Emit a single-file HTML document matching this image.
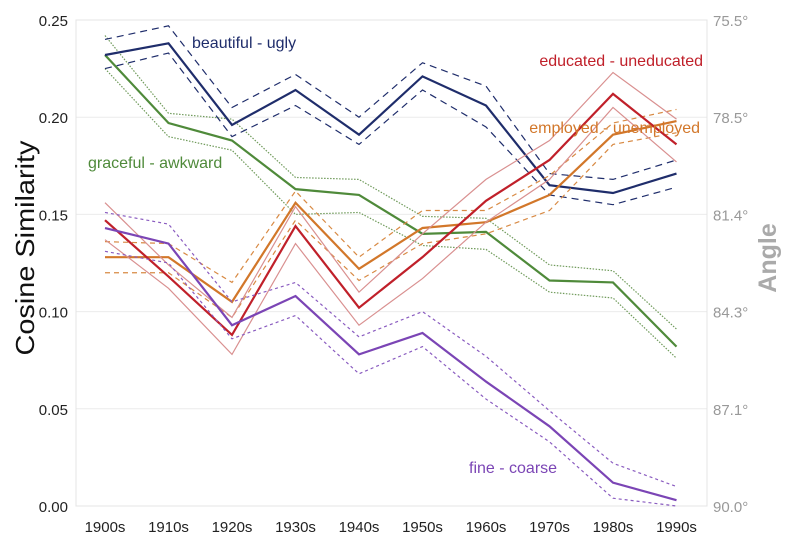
<!DOCTYPE html>
<html><head><meta charset="utf-8"><style>
body{margin:0;background:#fff;}
svg{display:block;font-family:"Liberation Sans",sans-serif;}
</style></head><body>
<svg id="chart" width="793" height="545">
<g id="grid"></g><g id="series"></g><g id="labels"></g>
<text x="0" y="0" transform="translate(34,248) rotate(-90)" text-anchor="middle" font-size="26" textLength="215" lengthAdjust="spacingAndGlyphs" fill="#111">Cosine Similarity</text>
<text x="0" y="0" transform="translate(776,258) rotate(-90)" text-anchor="middle" font-size="25" font-weight="bold" fill="#aaa">Angle</text>
</svg>
<script>
const decades=["1900s","1910s","1920s","1930s","1940s","1950s","1960s","1970s","1980s","1990s"];
const yTicks=[0,0.05,0.10,0.15,0.20,0.25];
const angleTicks=["90.0°","87.1°","84.3°","81.4°","78.5°","75.5°"];
const beautifulMid=[0.232,0.238,0.196,0.214,0.191,0.221,0.206,0.165,0.161,0.171];
const beautifulHi=[0.240,0.247,0.205,0.222,0.200,0.228,0.216,0.171,0.168,0.178];
const beautifulLo=[0.225,0.233,0.190,0.206,0.186,0.214,0.195,0.160,0.155,0.164];
const gracefulMid=[0.232,0.197,0.188,0.163,0.160,0.140,0.141,0.116,0.115,0.082];
const gracefulHi=[0.242,0.202,0.199,0.169,0.168,0.149,0.148,0.124,0.121,0.091];
const gracefulLo=[0.225,0.190,0.183,0.150,0.151,0.134,0.132,0.110,0.107,0.076];
const educatedMid=[0.147,0.118,0.088,0.144,0.102,0.128,0.157,0.178,0.212,0.186];
const educatedHi=[0.156,0.124,0.097,0.154,0.110,0.140,0.168,0.188,0.223,0.199];
const educatedLo=[0.137,0.112,0.078,0.135,0.093,0.117,0.146,0.168,0.205,0.177];
const employedMid=[0.128,0.128,0.105,0.156,0.122,0.143,0.146,0.160,0.191,0.198];
const employedHi=[0.136,0.135,0.115,0.162,0.128,0.152,0.152,0.170,0.197,0.204];
const employedLo=[0.120,0.120,0.097,0.147,0.116,0.135,0.140,0.152,0.186,0.192];
const fineMid=[0.143,0.135,0.093,0.108,0.078,0.089,0.064,0.041,0.012,0.003];
const fineHi=[0.151,0.145,0.105,0.115,0.087,0.100,0.077,0.049,0.022,0.010];
const fineLo=[0.131,0.125,0.086,0.098,0.068,0.082,0.055,0.033,0.004,0.000];

const NS="http://www.w3.org/2000/svg";
const L=76,R=707,T=20,B=506;
const xs=i=>105+i*63.5;
const ys=v=>B-(v/0.25)*(B-T);
function mk(tag,attrs,parent){const e=document.createElementNS(NS,tag);for(const k in attrs)e.setAttribute(k,attrs[k]);parent.appendChild(e);return e;}
const grid=document.getElementById('grid'),ser=document.getElementById('series'),lab=document.getElementById('labels');
yTicks.forEach((t,i)=>{
  const y=ys(t);
  const g=mk('line',{x1:L,x2:R,y1:y,y2:y,stroke:'#ececec','stroke-width':1},grid);
  
  
  const tx=mk('text',{x:L-8,y:y+6,'text-anchor':'end','font-size':15,fill:'#222'},lab);
  tx.textContent=t.toFixed(2);
  
  
  const ta=mk('text',{x:713,y:y+6,'font-size':15,fill:'#999'},lab);
  ta.textContent=angleTicks[i];
  
  
});
const fr=mk('path',{d:`M${L},${T}H${R}V${B}H${L}Z`,fill:'none',stroke:'#e4e4e4'},grid);


decades.forEach((d,i)=>{
  const t=mk('text',{x:xs(i),y:532,'text-anchor':'middle','font-size':15,fill:'#222'},lab);
  t.textContent=d;
  
  
});
function line(arr,color,w,dash,name){
  const p=mk('polyline',{points:arr.map((v,i)=>xs(i)+','+ys(v)).join(' '),fill:'none',stroke:color,'stroke-width':w},ser);
  if(dash)p.setAttribute('stroke-dasharray',dash);
  
  
}
const S=[
 [gracefulHi,gracefulLo,gracefulMid,'#4f8a3a','#6f9a5a','1.5,1.5','graceful'],
 [beautifulHi,beautifulLo,beautifulMid,'#1f2d6b','#1f2d6b','7,5','beautiful'],
 [employedHi,employedLo,employedMid,'#d2772a','#d88a44','5,4','employed'],
 [educatedHi,educatedLo,educatedMid,'#c0202a','#d99090',null,'educated'],
 [fineHi,fineLo,fineMid,'#7b45b5','#8a5cc0','3,3','fine']
];
S.forEach(s=>{
  line(s[0],s[4],1.2,s[5],s[6]+'-upper-bound');
  line(s[1],s[4],1.2,s[5],s[6]+'-lower-bound');
  line(s[2],s[3],2.2,null,s[6]+'-line');
});
const labels=[["beautiful - ugly",192,48,'#1f2d6b','start'],["graceful - awkward",88,168,'#4f8a3a','start'],
["educated - uneducated",703,66,'#c0202a','end'],["employed - unemployed",700,133,'#d2772a','end'],["fine - coarse",469,473,'#7b45b5','start']];
labels.forEach(l=>{
  const t=mk('text',{x:l[1],y:l[2],'font-size':16,fill:l[3],'text-anchor':l[4]},lab);
  t.textContent=l[0];
  
  
});
</script>
</body></html>
